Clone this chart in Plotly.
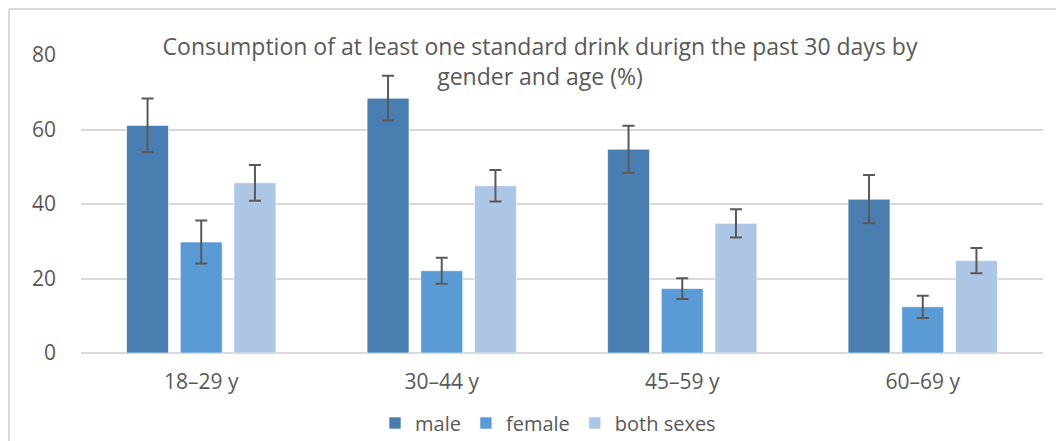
import plotly.graph_objects as go

categories = ["18–29 y", "30–44 y", "45–59 y", "60–69 y"]
male = [61.1, 68.4, 54.7, 41.3]
male_err = [7.2, 6.0, 6.3, 6.5]
female = [29.8, 22.1, 17.3, 12.4]
female_err = [5.8, 3.5, 2.8, 3.0]
both = [45.7, 44.9, 34.8, 24.8]
both_err = [4.8, 4.2, 3.8, 3.4]
series_names = ["male", "female", "both sexes"]
colors = ["#4A7EB0", "#5B9BD5", "#ADC6E6"]

# figure is placed at (8, 8) in the page by the browser's body margin
W, H = 1056, 433
L, R, T, B = 73, 21, 47, 88
FONT = "Open Sans"
GRAY = "#595959"

fig = go.Figure()
for name, vals, errs, col in zip(series_names, [male, female, both],
                                 [male_err, female_err, both_err], colors):
    fig.add_trace(go.Bar(
        x=categories, y=vals, name=name,
        marker=dict(color=col, line=dict(color="rgba(255,255,255,0.6)", width=1)),
        error_y=dict(type="data", array=errs, visible=True,
                     color=GRAY, thickness=2, width=6),
    ))

pw = W - L - R
ph = H - T - B
fig.update_layout(
    width=W, height=H,
    margin=dict(l=L, r=R, t=T, b=B, autoexpand=False),
    paper_bgcolor="white", plot_bgcolor="white",
    barmode="group", bargap=0.33, bargroupgap=0.22,
    font=dict(family=FONT, color=GRAY, size=20),
    title=dict(
        text="Consumption of at least one standard drink durign the past 30 days by<br>gender and age (%)",
        x=532 / W, xanchor="center", xref="container",
        y=1 - 47 / H, yanchor="top", yref="container",
        font=dict(family=FONT, size=23, color=GRAY),
    ),
    xaxis=dict(showgrid=False, showline=False, ticks="", automargin=False,
               ticklabelstandoff=14,
               tickfont=dict(size=21, color=GRAY)),
    yaxis=dict(range=[0, 80], dtick=20, showgrid=True, gridcolor="#D9D9D9",
               gridwidth=2, zeroline=True, zerolinecolor="#D9D9D9", zerolinewidth=2,
               showline=False, ticks="", ticklabelstandoff=24, automargin=False,
               tickfont=dict(size=21, color=GRAY)),
    legend=dict(orientation="h", x=540 / W, xref="container", xanchor="center",
                y=1 - 415 / H, yref="container", yanchor="middle",
                font=dict(size=20, color=GRAY),
                traceorder="normal"),
    showlegend=True,
)

# chart-area border (left and top edges visible)
fig.add_shape(type="line", xref="paper", yref="paper",
              x0=(1 - L) / pw, x1=(1 - L) / pw,
              y0=-(H - T - ph + 5) / ph, y1=(T - 1 + ph) / ph,
              line=dict(color="#D9D9D9", width=2), layer="below")
fig.add_shape(type="line", xref="paper", yref="paper",
              x0=(1 - L) / pw, x1=(W + 5 - L) / pw,
              y0=(T - 1 + ph) / ph, y1=(T - 1 + ph) / ph,
              line=dict(color="#D9D9D9", width=2), layer="below")

fig.write_html("out.html")
